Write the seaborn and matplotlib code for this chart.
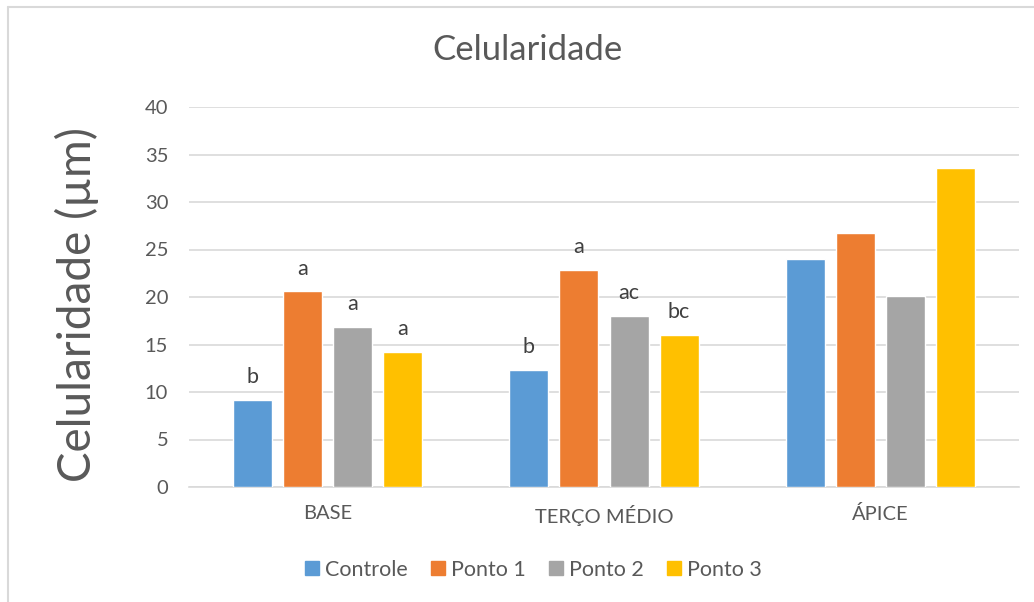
import matplotlib
matplotlib.use("Agg")
import matplotlib.pyplot as plt
import pandas as pd
import seaborn as sns
from matplotlib.lines import Line2D

# data
regions = ["BASE", "TERÇO MÉDIO", "ÁPICE"]
groups = ["Controle", "Ponto 1", "Ponto 2", "Ponto 3"]
controle = [9.2, 12.35, 23.95]
ponto1 = [20.6, 22.85, 26.75]
ponto2 = [16.85, 18.05, 20.15]
ponto3 = [14.25, 16.0, 33.55]
letters = {
    "Controle": ["b", "b", ""],
    "Ponto 1": ["a", "a", ""],
    "Ponto 2": ["a", "ac", ""],
    "Ponto 3": ["a", "bc", ""],
}
colors = ["#5B9BD5", "#ED7D31", "#A5A5A5", "#FFC000"]
text_color = "#595959"
grid_color = "#D9D9D9"

rows = []
for name, vals in zip(groups, [controle, ponto1, ponto2, ponto3]):
    for reg, v in zip(regions, vals):
        rows.append({"regiao": reg, "grupo": name, "valor": v})
df = pd.DataFrame(rows)

sns.set_style("white")
plt.rcParams["font.family"] = ["Lato", "DejaVu Sans"]

fig = plt.figure(figsize=(10.34, 6.02), dpi=100)
ax = fig.add_axes([189 / 1034, 1 - 487 / 602, 830 / 1034, 380 / 602])

sns.barplot(
    data=df, x="regiao", y="valor", hue="grupo",
    order=regions, hue_order=groups, palette=colors,
    width=0.723, gap=0.22, saturation=1, errorbar=None,
    legend=False, ax=ax, zorder=3,
)

# significance letters above bars
for container, name in zip(ax.containers, groups):
    ax.bar_label(container, labels=letters[name], padding=9,
                 fontsize=15.5, color="#404040")

ax.set_ylim(0, 40)
ax.set_yticks(range(0, 41, 5))
ax.set_xlim(-0.5, 2.5)
ax.grid(axis="y", color=grid_color, linewidth=1.2, zorder=0)
ax.set_axisbelow(True)
for side in ["top", "right", "left"]:
    ax.spines[side].set_visible(False)
ax.spines["bottom"].set_color(grid_color)
ax.spines["bottom"].set_linewidth(1.2)
ax.tick_params(axis="both", length=0, labelsize=14.5, colors=text_color)
ax.tick_params(axis="x", pad=13)
ax.tick_params(axis="y", pad=15)
ax.set_xlabel("")
ax.set_ylabel("")

fig.text(527 / 1034, 1 - 50 / 602, "Celularidade", ha="center", va="center",
         fontsize=25, color=text_color)
fig.text(77 / 1034, 1 - 304 / 602, "Celularidade (µm)", rotation=90,
         ha="center", va="center", fontsize=33, color=text_color)

handles = [Line2D([], [], marker="s", linestyle="", markersize=10,
                  markerfacecolor=c, markeredgecolor=c) for c in colors]
fig.legend(handles, groups, loc="center", ncol=4,
           bbox_to_anchor=(532 / 1034, 1 - 570 / 602), frameon=False,
           fontsize=15.5, labelcolor=text_color, handletextpad=0.15,
           columnspacing=0.95, handlelength=0.9)

# outer chart border (left and top visible)
fig.add_artist(Line2D([8 / 1034, 8 / 1034], [0, 1 - 7 / 602],
                      color=grid_color, linewidth=1.5))
fig.add_artist(Line2D([8 / 1034, 1], [1 - 7 / 602, 1 - 7 / 602],
                      color=grid_color, linewidth=1.5))

fig.savefig("out.png", dpi=100)
plt.close(fig)
